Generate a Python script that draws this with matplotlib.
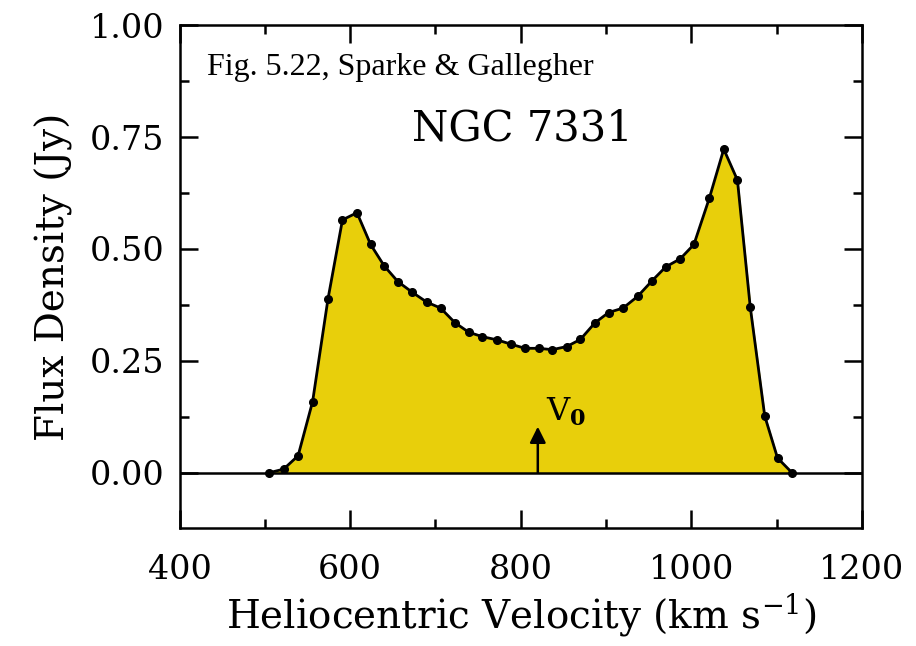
import numpy as np
import matplotlib.pyplot as plt
from matplotlib.ticker import MultipleLocator

# HI line profile of NGC 7331
velocity = [505, 522, 539, 556, 574, 591, 608, 624, 640, 656, 673, 690, 706,
            723, 739, 755, 772, 789, 805, 821, 837, 854, 870, 887, 903, 920,
            937, 954, 970, 987, 1003, 1021, 1038, 1054, 1069, 1086, 1101, 1118]
flux = [0.000, 0.008, 0.038, 0.159, 0.388, 0.565, 0.581, 0.510, 0.462, 0.427,
        0.403, 0.381, 0.368, 0.335, 0.314, 0.304, 0.297, 0.287, 0.278, 0.278,
        0.275, 0.282, 0.298, 0.335, 0.358, 0.368, 0.394, 0.429, 0.460, 0.478,
        0.510, 0.613, 0.723, 0.654, 0.371, 0.127, 0.033, 0.000]
v_sys = 820
x_ticks = [400, 600, 800, 1000, 1200]
y_ticks = [0.00, 0.25, 0.50, 0.75, 1.00]

plt.rcParams['mathtext.fontset'] = 'dejavuserif'

fig = plt.figure(figsize=(9.16, 6.46), dpi=100)
ax = fig.add_axes([0.196, 0.183, 0.745, 0.778])

ax.fill_between(velocity, flux, 0, color='#e8cf0b', zorder=1)
ax.plot(velocity, flux, color='black', lw=2, marker='o', ms=5.5, zorder=3)
ax.axhline(0, color='black', lw=1.8, zorder=2)

# systemic velocity arrow
ax.annotate('', xy=(v_sys, 0.103), xytext=(v_sys, 0.0),
            arrowprops=dict(arrowstyle='-|>', color='black', lw=1.8,
                            mutation_scale=24, shrinkA=0, shrinkB=0), zorder=4)
ax.text(v_sys + 10, 0.135, r'V$_\mathbf{0}$', fontsize=23, family='DejaVu Serif',
        ha='left', va='center')

ax.set_xlim(400, 1200)
ax.set_ylim(-0.123, 1.0)
ax.set_xticks(x_ticks)
ax.set_yticks(y_ticks)
ax.set_yticklabels(['%.2f' % t for t in y_ticks])
ax.xaxis.set_minor_locator(MultipleLocator(100))
ax.yaxis.set_minor_locator(MultipleLocator(0.125))
ax.tick_params(which='both', direction='in', top=True, right=True, width=1.8,
               labelsize=24)
ax.tick_params(axis='x', which='major', pad=19)
ax.tick_params(axis='y', which='major', pad=11)
ax.tick_params(which='major', length=13)
ax.tick_params(which='minor', length=6.5)
for lab in ax.get_xticklabels() + ax.get_yticklabels():
    lab.set_family('DejaVu Serif')
for s in ax.spines.values():
    s.set_linewidth(1.8)

ax.set_xlabel(r'Heliocentric Velocity (km s$^{-1}$)', fontsize=28,
              family='DejaVu Serif', labelpad=4)
ax.set_ylabel('Flux Density (Jy)', fontsize=28, family='DejaVu Serif',
              labelpad=12)

ax.text(0.04, 0.915, 'Fig. 5.22, Sparke & Gallegher', transform=ax.transAxes,
        fontsize=23, family='Liberation Serif', ha='left', va='center')
ax.text(0.502, 0.795, 'NGC 7331', transform=ax.transAxes, fontsize=30,
        family='DejaVu Serif', ha='center', va='center')

fig.savefig('out.png', dpi=100)
